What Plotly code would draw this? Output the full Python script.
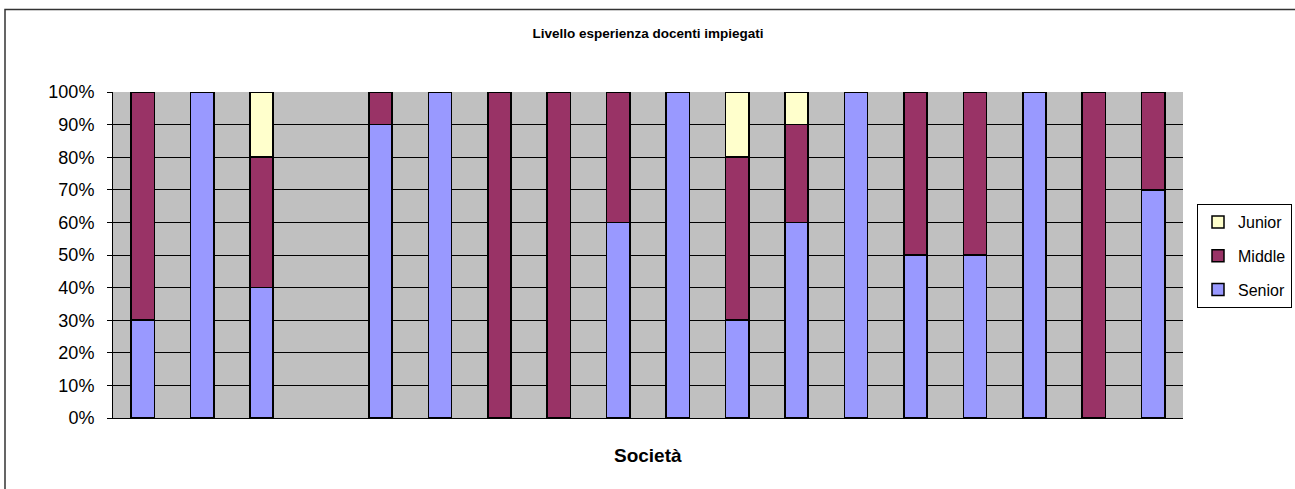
import plotly.graph_objects as go

# Experience mix of the teachers employed by each company (percent of staff)
companies = [str(i) for i in range(1, 19)]
senior = [30, 100, 40, None, 90, 100, None, None, 60, 100, 30, 60, 100, 50, 50, 100, None, 70]
middle = [70, None, 40, None, 10, None, 100, 100, 40, None, 50, 30, None, 50, 50, None, 100, 30]
junior = [None, None, 20, None, None, None, None, None, None, None, 20, 10, None, None, None, None, None, None]

# stacked bottom-to-top; legend lists them top-down from Junior
series = [
    ("Senior", senior, "#9999FF", 3),
    ("Middle", middle, "#993366", 2),
    ("Junior", junior, "#FFFFCC", 1),
]

FONT = "Arial, Liberation Sans, sans-serif"

fig = go.Figure()
for name, values, color, rank in series:
    fig.add_trace(go.Bar(
        name=name,
        x=companies,
        y=values,
        legendgroup=name,
        legendrank=rank,
        marker=dict(color=color, line=dict(color="black", width=1.5)),
    ))

# plot area geometry in pixels
W, H = 1295, 489
L, R, T, B = 113, 112, 92, 71
pw, ph = W - L - R, H - T - B

def px_x(x):
    return (x - L) / pw

def px_y(y):
    return (H - B - y) / ph

fig.update_layout(
    width=W, height=H,
    barmode="stack",
    bargap=0.61,
    margin=dict(l=L, r=R, t=T, b=B, autoexpand=False),
    paper_bgcolor="white",
    plot_bgcolor="#C0C0C0",
    font=dict(family=FONT, color="black"),
    title=dict(
        text="<b>Livello esperienza docenti impiegati</b>",
        font=dict(size=13.5, family=FONT, color="black"),
        x=0.5, xanchor="center", xref="paper",
        y=1 - 33 / H, yanchor="middle",
    ),
    xaxis=dict(
        type="category",
        showticklabels=False,
        showgrid=False,
        ticks="",
        showline=True, linecolor="black", linewidth=1,
        range=[-0.5, len(companies) - 0.5],
    ),
    yaxis=dict(
        range=[0, 100],
        dtick=10,
        ticksuffix="%",
        ticks="outside", ticklen=5, tickcolor="black",
        ticklabelstandoff=9,
        tickfont=dict(size=18, family=FONT, color="black"),
        showgrid=True, gridcolor="black", gridwidth=1,
        showline=True, linecolor="black", linewidth=1,
        zeroline=False,
    ),
    legend=dict(
        traceorder="grouped",
        x=px_x(1197), xanchor="left",
        y=px_y(204), yanchor="top",
        bgcolor="white",
        bordercolor="black", borderwidth=1,
        font=dict(size=16, family=FONT, color="black"),
        tracegroupgap=10,
        itemwidth=30,
    ),
    annotations=[dict(
        text="<b>Società</b>",
        xref="paper", yref="paper",
        x=0.5, y=px_y(455),
        xanchor="center", yanchor="middle",
        showarrow=False,
        font=dict(size=19, family=FONT, color="black"),
    )],
    shapes=[dict(
        type="rect", xref="paper", yref="paper",
        x0=px_x(5), x1=px_x(1310), y0=px_y(505), y1=px_y(9.5),
        line=dict(color="#333333", width=1.5),
        fillcolor="rgba(0,0,0,0)",
        layer="below",
    )],
)

fig.write_html("out.html")
